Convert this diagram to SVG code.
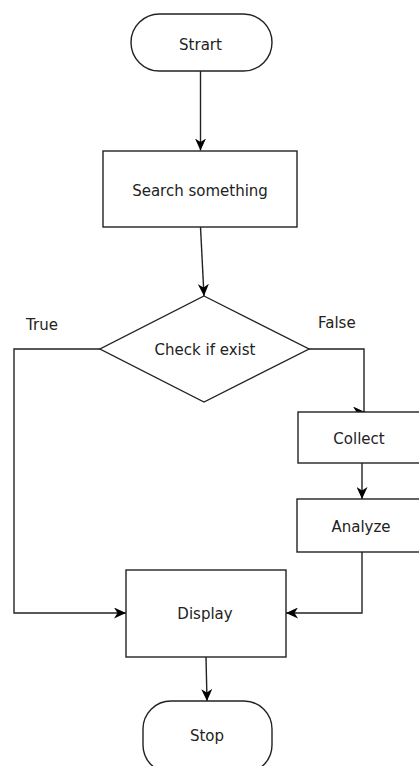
<svg xmlns="http://www.w3.org/2000/svg" width="419" height="766" viewBox="0 0 419 766">
<style>
.s{fill:#fff;stroke:#222;stroke-width:1.4}
.t{font-family:"DejaVu Sans",Verdana,sans-serif;font-size:15px;fill:#222;text-anchor:middle}
.l{font-family:"DejaVu Sans",Verdana,sans-serif;font-size:15px;fill:#222}
.c{fill:none;stroke:#222;stroke-width:1.4}
</style>
<defs>
<marker id="a" markerUnits="userSpaceOnUse" viewBox="0 0 12 11" refX="12" refY="5.5" markerWidth="12" markerHeight="11" orient="auto">
<path d="M0,0 L12,5.5 L0,11 L3.5,5.5 Z" fill="#000"/>
</marker>
</defs>
<rect width="419" height="766" fill="#fff"/>
<g id="connectors">
<path class="c" d="M200.5,71 V150.5" marker-end="url(#a)"/>
<path class="c" d="M200.5,227 L204,296" marker-end="url(#a)"/>
<path class="c" d="M309,349 H364 V412 M363,412 H365" marker-end="url(#a)"/>
<path class="c" d="M362,463 V499" marker-end="url(#a)"/>
<path class="c" d="M100,349 H14 V613 H126" marker-end="url(#a)"/>
<path class="c" d="M362,552 V613 H286" marker-end="url(#a)"/>
<path class="c" d="M206,657 L207,701" marker-end="url(#a)"/>
</g>
<g id="start">
<rect class="s" x="131" y="14" width="141" height="57" rx="28.5"/>
<text class="t" x="200.5" y="50">Strart</text>
</g>
<g id="search">
<rect class="s" x="103" y="151" width="194" height="76"/>
<text class="t" x="200" y="196">Search something</text>
</g>
<g id="check">
<polygon class="s" points="204,296 309,349 204,402 100,349"/>
<text class="t" x="205" y="355">Check if exist</text>
</g>
<g id="true-label">
<text class="l" x="26" y="330">True</text>
</g>
<g id="false-label">
<text class="l" x="318" y="328">False</text>
</g>
<g id="collect">
<rect class="s" x="298" y="412" width="130" height="51"/>
<text class="t" x="359" y="444">Collect</text>
</g>
<g id="analyze">
<rect class="s" x="297" y="499" width="131" height="53"/>
<text class="t" x="361" y="532">Analyze</text>
</g>
<g id="display">
<rect class="s" x="126" y="570" width="160" height="87"/>
<text class="t" x="205" y="619">Display</text>
</g>
<g id="stop">
<rect class="s" x="143" y="701" width="129" height="72" rx="28"/>
<text class="t" x="207" y="741">Stop</text>
</g>
</svg>
